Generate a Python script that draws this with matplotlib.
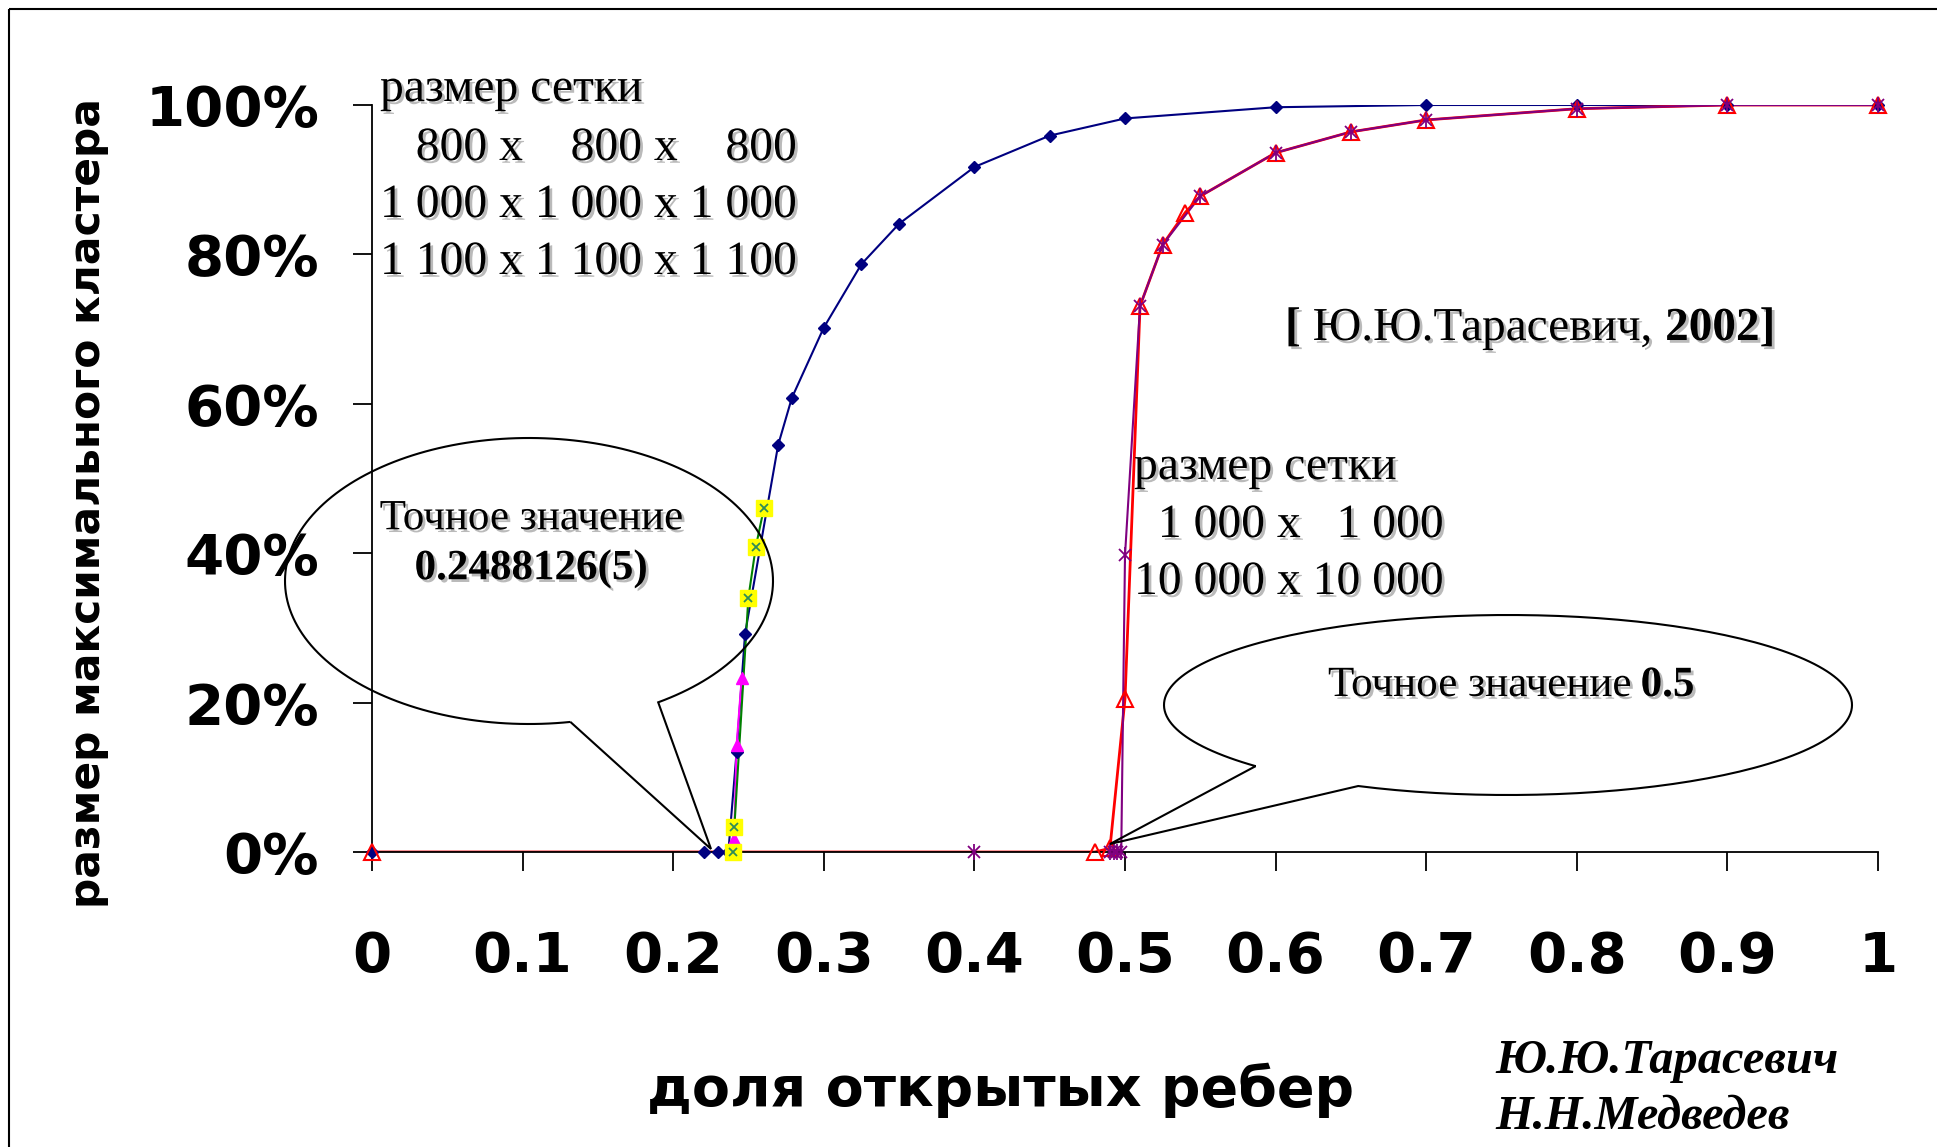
import matplotlib
matplotlib.use("Agg")
import matplotlib.pyplot as plt
import matplotlib.patheffects as pe
from matplotlib.path import Path
from matplotlib.patches import PathPatch, Rectangle
import numpy as np

W, H = 1937, 1147
DPI = 100

# 3D: 800 x 800 x 800 (navy diamonds)
x_800 = [0, 0.2205, 0.2295, 0.2366, 0.2421, 0.2477, 0.2697, 0.2788, 0.300, 0.325,
         0.350, 0.400, 0.450, 0.500, 0.600, 0.700, 0.800, 0.900, 1.000]
y_800 = [0, 0, 0, 0, 13.4, 29.2, 54.5, 60.8, 70.2, 78.7,
         84.1, 91.7, 95.9, 98.2, 99.7, 100, 100, 100, 100]
# 3D: 1000 x 1000 x 1000 (magenta triangles)
x_1000 = [0.2405, 0.2421, 0.2455]
y_1000 = [1.8, 14.3, 23.3]
# 3D: 1100 x 1100 x 1100 (yellow squares)
x_1100 = [0.2395, 0.2406, 0.2499, 0.2548, 0.2603]
y_1100 = [0, 3.3, 34.0, 40.8, 46.1]
# 2D: 1000 x 1000 (red hollow triangles)
x_2d_1k = [0, 0.480, 0.490, 0.500, 0.510, 0.525, 0.540, 0.550, 0.600, 0.650, 0.700, 0.800, 0.900, 1.000]
y_2d_1k = [0, 0, 0.5, 20.5, 73.1, 81.3, 85.6, 87.8, 93.6, 96.4, 98.0, 99.5, 100, 100]
# 2D: 10000 x 10000 (purple stars)
x_2d_10k = [0.490, 0.4925, 0.495, 0.4975, 0.500, 0.510, 0.525, 0.550, 0.600, 0.650, 0.700, 0.800, 0.900, 1.000]
y_2d_10k = [0, 0, 0, 0, 39.7, 73.1, 81.3, 87.8, 93.6, 96.4, 98.0, 99.5, 100, 100]
x_2d_10k_lone = [0.400]
y_2d_10k_lone = [0]

xticks = [0, 0.1, 0.2, 0.3, 0.4, 0.5, 0.6, 0.7, 0.8, 0.9, 1]
xtick_labels = ["0", "0.1", "0.2", "0.3", "0.4", "0.5", "0.6", "0.7", "0.8", "0.9", "1"]
yticks = [0, 20, 40, 60, 80, 100]
ytick_labels = ["0%", "20%", "40%", "60%", "80%", "100%"]

grid3d_lines = ["размер сетки", "   800 x    800 x    800", "1 000 x 1 000 x 1 000", "1 100 x 1 100 x 1 100"]
grid2d_lines = ["размер сетки", "  1 000 x   1 000", "10 000 x 10 000"]

SERIF = "Liberation Serif"
shadow = [pe.withSimplePatchShadow(offset=(2, -2), shadow_rgbFace="0.55", alpha=0.6)]

fig = plt.figure(figsize=(W / DPI, H / DPI), dpi=DPI)
ax = fig.add_axes([372 / W, (H - 852) / H, 1506 / W, 747 / H])

# lines first, markers over them (like Excel)
ax.plot(x_800, y_800, color="#000080", lw=1.5, zorder=2.0)
ax.plot(x_1000, y_1000, color="#FF00FF", lw=1.5, zorder=2.1)
ax.plot(x_1100, y_1100, color="#008000", lw=1.5, zorder=2.2)
ax.plot(x_2d_1k, y_2d_1k, color="#FF0000", lw=2, zorder=2.3)
ax.plot(x_2d_10k, y_2d_10k, color="#800080", lw=1.5, zorder=2.4)

ax.plot(x_800, y_800, ls="none", marker="D", ms=6, color="#000080", zorder=3.0, clip_on=False)
ax.plot(x_1000, y_1000, ls="none", marker="^", ms=9, color="#FF00FF", zorder=3.1, clip_on=False)
ax.plot(x_1100, y_1100, ls="none", marker="s", ms=11, mfc="#FFFF00", mec="#FFFF00", zorder=3.2, clip_on=False)
ax.plot(x_1100, y_1100, ls="none", marker="x", ms=6, mew=1.3, color="#2E8B57", zorder=3.25, clip_on=False)
ax.plot(x_2d_1k, y_2d_1k, ls="none", marker="^", ms=12, mfc="none", mec="#FF0000", mew=1.5, zorder=3.3, clip_on=False)
for xs, ys in [(x_2d_10k, y_2d_10k), (x_2d_10k_lone, y_2d_10k_lone)]:
    ax.plot(xs, ys, ls="none", marker="x", ms=9, mew=1.3, color="#800080", zorder=3.4, clip_on=False)
    ax.plot(xs, ys, ls="none", marker="|", ms=11, mew=1.3, color="#800080", zorder=3.4, clip_on=False)

ax.set_xlim(0, 1)
ax.set_ylim(0, 100)
ax.spines["top"].set_visible(False)
ax.spines["right"].set_visible(False)
ax.spines["left"].set_linewidth(1.3)
ax.spines["bottom"].set_linewidth(1.3)
ax.set_xticks(xticks)
ax.set_xticklabels(xtick_labels)
ax.set_yticks(yticks)
ax.set_yticklabels(ytick_labels)
ax.tick_params(axis="both", direction="out", length=14, width=1.3, labelsize=40.5)
ax.tick_params(axis="x", pad=42)
ax.tick_params(axis="y", pad=24)
for lab in ax.get_xticklabels() + ax.get_yticklabels():
    lab.set_fontweight("bold")
    lab.set_family("DejaVu Sans")

fig.text(88 / W, 1 - 503 / H, "размер максимального кластера", rotation=90,
         ha="center", va="center", fontsize=30.5, fontweight="bold", family="DejaVu Sans")
fig.text(1001 / W, 1 - 1090 / H, "доля открытых ребер",
         ha="center", va="center", fontsize=40, fontweight="bold", family="DejaVu Sans")

# overlay in pixel coordinates for the frame, callouts and notes
ov = fig.add_axes([0, 0, 1, 1])
ov.set_xlim(0, W)
ov.set_ylim(H, 0)
ov.axis("off")
ov.patch.set_alpha(0)

ov.add_patch(Rectangle((9, 9), W + 20, H + 20, fill=False, lw=1.5, ec="black"))


def callout(cx, cy, a, b, p_start, p_end, tip):
    # ellipse arc from p_start round to p_end, then the tail to the tip
    t0 = np.arctan2((p_start[1] - cy) / b, (p_start[0] - cx) / a)
    t1 = np.arctan2((p_end[1] - cy) / b, (p_end[0] - cx) / a)
    if t1 < t0:
        t1 += 2 * np.pi
    t = np.linspace(t0, t1, 200)
    xs = list(cx + a * np.cos(t)) + [tip[0], cx + a * np.cos(t0)]
    ys = list(cy + b * np.sin(t)) + [tip[1], cy + b * np.sin(t0)]
    ov.add_patch(PathPatch(Path(list(zip(xs, ys))), fill=False, lw=1.5, ec="black"))


callout(529, 581, 244, 143, (571, 724), (660, 704), (711, 849))
callout(1508, 705, 344, 90, (1248, 768), (1349, 791), (1110, 844))

for s, yb in zip(grid3d_lines, [101, 160, 217, 274]):
    ov.text(380, yb, s, ha="left", va="baseline", fontsize=34.3, family=SERIF, path_effects=shadow)
for s, yb in zip(grid2d_lines, [479, 537, 594]):
    ov.text(1134, yb, s, ha="left", va="baseline", fontsize=34.3, family=SERIF, path_effects=shadow)

ov.text(531, 519, "Точное значение", ha="center", va="center", fontsize=31,
        family=SERIF, path_effects=shadow)
ov.text(531, 569, "0.2488126(5)", ha="center", va="center", fontsize=31,
        family=SERIF, fontweight="bold", path_effects=shadow)

renderer = fig.canvas.get_renderer()


def rich(x, y, parts, size):
    cur = x
    for s, w, gap in parts:
        t = ov.text(cur, y, s, ha="left", va="baseline", fontsize=size, family=SERIF,
                    fontweight=w, path_effects=shadow)
        bb = t.get_window_extent(renderer)
        cur += bb.width + gap


rich(1285, 340, [("[", "bold", 12), ("Ю.Ю.Тарасевич,", "normal", 12), ("2002]", "bold", 0)], 34)
rich(1328, 696, [("Точное значение", "normal", 10), ("0.5", "bold", 0)], 31)

ov.text(1495, 1061, "Ю.Ю.Тарасевич", ha="left", va="center", fontsize=34.8, family=SERIF,
        fontweight="bold", style="italic")
ov.text(1495, 1117, "Н.Н.Медведев", ha="left", va="center", fontsize=34.8, family=SERIF,
        fontweight="bold", style="italic")

fig.savefig("out.png", dpi=DPI)
